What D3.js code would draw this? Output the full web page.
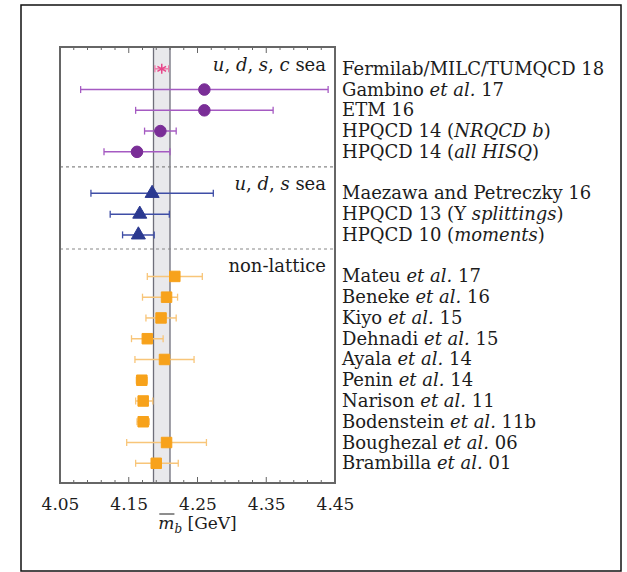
<!DOCTYPE html>
<html>
<head>
<meta charset="utf-8">
<script src="https://cdn.jsdelivr.net/npm/d3@7"></script>
<style>
  body { margin: 0; background: #fff; }
  text { font-family: "DejaVu Serif", serif; fill: #1c1c1c; }
</style>
</head>
<body>
<script>
// result labels, *...* marks italic
var labels = [
  "Fermilab/MILC/TUMQCD 18", "Gambino *et al.* 17", "ETM 16",
  "HPQCD 14 (*NRQCD b*)", "HPQCD 14 (*all HISQ*)",
  "Maezawa and Petreczky 16", "HPQCD 13 (\u03a5 *splittings*)", "HPQCD 10 (*moments*)",
  "Mateu *et al.* 17", "Beneke *et al.* 16", "Kiyo *et al.* 15", "Dehnadi *et al.* 15",
  "Ayala *et al.* 14", "Penin *et al.* 14", "Narison *et al.* 11",
  "Bodenstein *et al.* 11b", "Boughezal *et al.* 06", "Brambilla *et al.* 01"
];
// row slot of each result (gaps between groups)
var rows = [0, 1, 2, 3, 4, 6, 7, 8, 10, 11, 12, 13, 14, 15, 16, 17, 18, 19];
var central = [4.198, 4.26, 4.26, 4.196, 4.162, 4.184, 4.166, 4.164,
  4.217, 4.205, 4.197, 4.177, 4.202, 4.169, 4.171, 4.171, 4.205, 4.190];
var errLo = [0.010, 0.18, 0.10, 0.023, 0.048, 0.089, 0.043, 0.023,
  0.040, 0.035, 0.022, 0.023, 0.043, 0.008, 0.011, 0.009, 0.058, 0.030];
var errHi = [0.010, 0.18, 0.10, 0.023, 0.048, 0.089, 0.043, 0.023,
  0.040, 0.016, 0.022, 0.023, 0.043, 0.008, 0.014, 0.009, 0.058, 0.032];
var kind = ["star", "circle", "circle", "circle", "circle", "triangle", "triangle", "triangle",
  "square", "square", "square", "square", "square", "square", "square", "square", "square", "square"];

var sections = ["*u*, *d*, *s*, *c* sea", "*u*, *d*, *s* sea", "non-lattice"];
var sectionRows = [-0.2, 5.55, 9.5];
var separators = [4.72, 8.68];
var band = [4.186, 4.210];
var tickVals = [4.05, 4.15, 4.25, 4.35, 4.45];

var colors = {
  star: "#e8468a", circle: "#7a2e97", triangle: "#2b3990", square: "#f7a21b"
};
var barColors = {
  star: "#ee7fab", circle: "#a55ac2", triangle: "#3f4ea6", square: "#f8c579"
};

var svg = d3.select("body").append("svg")
  .attr("width", 627).attr("height", 572);

// outer frame of the picture
svg.append("rect").attr("x", 21).attr("y", 5).attr("width", 600).attr("height", 566)
  .attr("fill", "none").attr("stroke", "#111").attr("stroke-width", 1.5);

var plotL = 60, plotR = 335, plotT = 47, plotB = 483;
var x = d3.scaleLinear().domain([4.05, 4.45]).range([plotL, plotR]);
var y = d3.scaleLinear().domain([-1.05, 19.95]).range([plotT, plotB]);

function richText(sel, str){
  str.split("*").forEach(function(part, i){
    if (!part) return;
    sel.append("tspan").attr("font-style", i % 2 ? "italic" : null).text(part);
  });
}

// average band
svg.append("rect")
  .attr("x", x(band[0])).attr("y", plotT)
  .attr("width", x(band[1]) - x(band[0])).attr("height", plotB - plotT)
  .attr("fill", "#e9e9ec");
band.forEach(function(b){
  svg.append("line").attr("x1", x(b)).attr("x2", x(b)).attr("y1", plotT).attr("y2", plotB)
    .attr("stroke", "#6f6f7a").attr("stroke-width", 1.3);
});

// group separators
separators.forEach(function(s){
  svg.append("line").attr("x1", plotL).attr("x2", plotR).attr("y1", y(s)).attr("y2", y(s))
    .attr("stroke", "#888").attr("stroke-width", 1.2).attr("stroke-dasharray", "3,3");
});

// ticks, inward on top and bottom
var minor = d3.range(4.05, 4.4501, 0.02);
minor.forEach(function(v){
  var major = tickVals.some(function(t){ return Math.abs(t - v) < 1e-6; });
  var len = major ? 6 : 3;
  svg.append("line").attr("x1", x(v)).attr("x2", x(v)).attr("y1", plotB).attr("y2", plotB - len)
    .attr("stroke", "#666").attr("stroke-width", 1);
  svg.append("line").attr("x1", x(v)).attr("x2", x(v)).attr("y1", plotT).attr("y2", plotT + len)
    .attr("stroke", "#666").attr("stroke-width", 1);
});

var axis = d3.axisBottom(x).tickValues(tickVals).tickFormat(d3.format(".2f")).tickSize(0).tickPadding(15);
var gAxis = svg.append("g").attr("transform", "translate(0," + plotB + ")").call(axis);
gAxis.select(".domain").remove();
gAxis.selectAll("text").style("font-family", "DejaVu Serif, serif").style("font-size", "17px").attr("fill", "#1c1c1c");

// plot frame
svg.append("rect").attr("x", plotL).attr("y", plotT).attr("width", plotR - plotL).attr("height", plotB - plotT)
  .attr("fill", "none").attr("stroke", "#666").attr("stroke-width", 2);

// error bars
var points = labels.map(function(l, i){
  return { label: l, row: rows[i], v: central[i], lo: central[i] - errLo[i], hi: central[i] + errHi[i], kind: kind[i] };
});

var eb = svg.selectAll(".err").data(points).enter().append("g").attr("class", "err");
eb.append("line")
  .attr("x1", function(d){ return x(d.lo); }).attr("x2", function(d){ return x(d.hi); })
  .attr("y1", function(d){ return y(d.row); }).attr("y2", function(d){ return y(d.row); })
  .attr("stroke", function(d){ return barColors[d.kind]; }).attr("stroke-width", 1.5);
["lo", "hi"].forEach(function(k){
  eb.append("line")
    .attr("x1", function(d){ return x(d[k]); }).attr("x2", function(d){ return x(d[k]); })
    .attr("y1", function(d){ return y(d.row) - 3.5; }).attr("y2", function(d){ return y(d.row) + 3.5; })
    .attr("stroke", function(d){ return barColors[d.kind]; }).attr("stroke-width", 1.3);
});

// markers
var symbols = { star: d3.symbolAsterisk, circle: d3.symbolCircle, triangle: d3.symbolTriangle, square: d3.symbolSquare };
var sizes = { star: 70, circle: 105, triangle: 85, square: 110 };
svg.selectAll(".mark").data(points).enter().append("path")
  .attr("class", "mark")
  .attr("transform", function(d){ return "translate(" + x(d.v) + "," + y(d.row) + ")"; })
  .attr("d", function(d){ return d3.symbol().type(symbols[d.kind]).size(sizes[d.kind])(); })
  .attr("fill", function(d){ return colors[d.kind]; })
  .attr("stroke", function(d){ return colors[d.kind]; })
  .attr("stroke-width", function(d){ return d.kind == "star" ? 1.5 : 1; })
  .attr("stroke-linejoin", "round");

// result names on the right
svg.selectAll(".lab").data(points).enter().append("text")
  .attr("class", "lab")
  .attr("x", 342).attr("y", function(d){ return y(d.row) + 6; })
  .style("font-size", "18px")
  .each(function(d){ richText(d3.select(this), d.label); });

// section titles
sections.forEach(function(s, i){
  var t = svg.append("text").attr("x", 326).attr("y", y(sectionRows[i]) + 6)
    .attr("text-anchor", "end").style("font-size", "18px");
  richText(t, s);
});

// x axis title: overline m, subscript b, [GeV]
var xt = svg.append("text").attr("x", x(4.25)).attr("y", 529).attr("text-anchor", "middle").style("font-size", "17px");
xt.append("tspan").attr("class", "mvar").attr("font-style", "italic").text("m");
xt.append("tspan").attr("dy", 4).style("font-size", "12px").attr("font-style", "italic").text("b");
xt.append("tspan").attr("dy", -4).text(" [GeV]");
var mb = xt.select(".mvar").node().getBBox();
svg.append("line").attr("x1", mb.x + 1).attr("x2", mb.x + mb.width).attr("y1", mb.y + 1).attr("y2", mb.y + 1)
  .attr("stroke", "#1c1c1c").attr("stroke-width", 1);
</script>
</body>
</html>
